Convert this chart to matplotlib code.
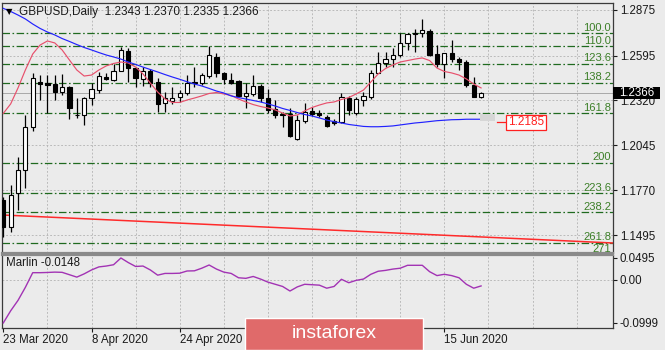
import numpy as np
import matplotlib
matplotlib.use("Agg")
import matplotlib.pyplot as plt
from matplotlib.patches import Rectangle
import matplotlib.transforms as mtransforms

plt.rcParams['font.family'] = ['Liberation Sans', 'DejaVu Sans']

# ---------------- data ----------------
symbol = "GBPUSD"
timeframe = "Daily"

date_ticks = [0, 12, 24, 36, 48, 60]
# labels at 36 and 48 are hidden behind the watermark in the reference
date_labels = ["23 Mar 2020", "8 Apr 2020", "24 Apr 2020", "", "", "15 Jun 2020"]

opens = [1.1712, 1.1546, 1.1751, 1.1894, 1.2159, 1.2435, 1.2425, 1.2421, 1.2374, 1.2401,
         1.2228, 1.2231, 1.2337, 1.2384, 1.2462, 1.2446, 1.2503, 1.2625, 1.2517, 1.2450,
         1.2503, 1.2435, 1.2303, 1.2319, 1.2343, 1.2364, 1.2430, 1.2429, 1.2470, 1.2589,
         1.2490, 1.2446, 1.2440, 1.2348, 1.2360, 1.2409, 1.2333, 1.2266, 1.2237, 1.2237,
         1.2082, 1.2196, 1.2257, 1.2245, 1.2221, 1.2194, 1.2190, 1.2333, 1.2241, 1.2323,
         1.2343, 1.2490, 1.2552, 1.2573, 1.2599, 1.2671, 1.2730, 1.2732, 1.2748, 1.2605,
         1.2544, 1.2609, 1.2573, 1.2558, 1.2415, 1.2343]
highs = [1.1730, 1.1802, 1.1975, 1.2231, 1.2490, 1.2476, 1.2476, 1.2476, 1.2482, 1.2409,
         1.2335, 1.2343, 1.2425, 1.2497, 1.2490, 1.2544, 1.2650, 1.2640, 1.2527, 1.2527,
         1.2511, 1.2456, 1.2374, 1.2405, 1.2384, 1.2476, 1.2527, 1.2490, 1.2654, 1.2609,
         1.2497, 1.2487, 1.2446, 1.2425, 1.2476, 1.2421, 1.2389, 1.2323, 1.2251, 1.2272,
         1.2231, 1.2303, 1.2282, 1.2262, 1.2231, 1.2205, 1.2368, 1.2348, 1.2343, 1.2374,
         1.2507, 1.2619, 1.2619, 1.2640, 1.2736, 1.2736, 1.2757, 1.2818, 1.2757, 1.2660,
         1.2609, 1.2691, 1.2589, 1.2568, 1.2462, 1.2370]
lows = [1.1480, 1.1515, 1.1648, 1.1782, 1.2135, 1.2323, 1.2241, 1.2323, 1.2354, 1.2208,
        1.2213, 1.2170, 1.2292, 1.2364, 1.2446, 1.2440, 1.2501, 1.2435, 1.2405, 1.2409,
        1.2405, 1.2251, 1.2251, 1.2299, 1.2313, 1.2354, 1.2405, 1.2415, 1.2456, 1.2466,
        1.2421, 1.2421, 1.2341, 1.2272, 1.2348, 1.2313, 1.2241, 1.2211, 1.2159, 1.2098,
        1.2078, 1.2184, 1.2225, 1.2217, 1.2159, 1.2170, 1.2180, 1.2231, 1.2231, 1.2286,
        1.2327, 1.2487, 1.2527, 1.2527, 1.2589, 1.2630, 1.2619, 1.2711, 1.2593, 1.2527,
        1.2456, 1.2558, 1.2507, 1.2405, 1.2340, 1.2335]
closes = [1.1544, 1.1740, 1.1894, 1.2159, 1.2456, 1.2421, 1.2415, 1.2374, 1.2401, 1.2272,
          1.2231, 1.2333, 1.2389, 1.2470, 1.2450, 1.2503, 1.2630, 1.2522, 1.2456, 1.2503,
          1.2429, 1.2299, 1.2333, 1.2333, 1.2368, 1.2429, 1.2435, 1.2476, 1.2599, 1.2490,
          1.2450, 1.2429, 1.2346, 1.2364, 1.2409, 1.2333, 1.2262, 1.2231, 1.2234, 1.2102,
          1.2200, 1.2251, 1.2237, 1.2231, 1.2164, 1.2184, 1.2340, 1.2262, 1.2327, 1.2348,
          1.2487, 1.2552, 1.2573, 1.2599, 1.2671, 1.2728, 1.2732, 1.2752, 1.2599, 1.2544,
          1.2609, 1.2573, 1.2558, 1.2415, 1.2343, 1.2366]

ma_fast = [1.2241, 1.2299, 1.2397, 1.2507, 1.2605, 1.2660, 1.2685, 1.2673, 1.2630, 1.2568,
           1.2507, 1.2470, 1.2476, 1.2507, 1.2532, 1.2547, 1.2556, 1.2550, 1.2525, 1.2483,
           1.2427, 1.2372, 1.2329, 1.2308, 1.2308, 1.2323, 1.2335, 1.2348, 1.2363, 1.2369,
           1.2360, 1.2351, 1.2329, 1.2311, 1.2295, 1.2283, 1.2274, 1.2262, 1.2243, 1.2225,
           1.2231, 1.2256, 1.2277, 1.2292, 1.2305, 1.2311, 1.2326, 1.2338, 1.2360, 1.2384,
           1.2433, 1.2483, 1.2516, 1.2538, 1.2556, 1.2565, 1.2574, 1.2581, 1.2565, 1.2519,
           1.2498, 1.2489, 1.2476, 1.2452, 1.2421, 1.2397]
ma_slow = [1.2885, 1.2866, 1.2844, 1.2820, 1.2789, 1.2762, 1.2740, 1.2722, 1.2700, 1.2682,
           1.2663, 1.2645, 1.2630, 1.2614, 1.2599, 1.2587, 1.2574, 1.2556, 1.2541, 1.2525,
           1.2510, 1.2495, 1.2479, 1.2464, 1.2450, 1.2435, 1.2421, 1.2409, 1.2394, 1.2378,
           1.2366, 1.2348, 1.2338, 1.2329, 1.2320, 1.2311, 1.2299, 1.2286, 1.2271, 1.2259,
           1.2246, 1.2234, 1.2225, 1.2213, 1.2200, 1.2190, 1.2182, 1.2173, 1.2167, 1.2161,
           1.2159, 1.2159, 1.2161, 1.2164, 1.2170, 1.2176, 1.2182, 1.2186, 1.2191, 1.2196,
           1.2199, 1.2202, 1.2203, 1.2205, 1.2205, 1.2205]

marlin = [-0.0999, -0.0720, -0.0480, -0.0180, 0.0157, 0.0157, 0.0162, 0.0170, 0.0165, 0.0110,
          0.0055, 0.0130, 0.0220, 0.0290, 0.0310, 0.0340, 0.0495, 0.0390, 0.0300, 0.0310,
          0.0220, 0.0100, 0.0140, 0.0140, 0.0145, 0.0196, 0.0200, 0.0260, 0.0334, 0.0240,
          0.0170, 0.0140, 0.0040, 0.0027, 0.0070, 0.0010, -0.0060, -0.0110, -0.0160, -0.0265,
          -0.0170, -0.0110, -0.0120, -0.0130, -0.0200, -0.0160, 0.0005, -0.0074, -0.0020, 0.0010,
          0.0120, 0.0190, 0.0210, 0.0240, 0.0260, 0.0327, 0.0327, 0.0327, 0.0180, 0.0090,
          0.0120, 0.0090, 0.0040, -0.0110, -0.0200, -0.0148]
marlin_last = "-0.0148"

trend_x = [-0.22, 82.95]
trend_y = [1.1618, 1.1446]

fib_labels = ["100.0", "110.0", "123.6", "138.2", "161.8", "200", "223.6", "238.2", "261.8", "271"]
fib_prices = [1.2732, 1.2653, 1.2545, 1.2429, 1.2241, 1.1938, 1.1751, 1.1635, 1.1448, 1.1378]

price_ticks = [1.2875, 1.2595, 1.2320, 1.2045, 1.1770, 1.1495]
price_tick_labels = ["1.2875", "1.2595", "1.2320", "1.2045", "1.1770", "1.1495"]
marlin_ticks = [0.0495, 0.0, -0.0999]
marlin_tick_labels = ["0.0495", "0.00", "-0.0999"]

label_price = 1.2185
last_price = closes[-1]

# ---------------- layout ----------------
W, H = 665, 350
bg = '#ebebeb'
fig = plt.figure(figsize=(W / 100, H / 100), dpi=100, facecolor=bg)

def fx(px):
    return px / W

def fy(py):
    return 1 - py / H

ax = fig.add_axes([fx(1.7), fy(252.5), fx(613 - 1.7), (252.5 - 3) / H])
ax2 = fig.add_axes([fx(1.7), fy(328), fx(613 - 1.7), (328 - 255) / H])

xlim = (-0.22, 82.95)
for a in (ax, ax2):
    a.set_facecolor(bg)
    a.set_xlim(*xlim)
    for s in a.spines.values():
        s.set_color('#3a3a3a')
        s.set_linewidth(0.9)
ax.spines['bottom'].set_color('#8a8a8a')
ax.spines['bottom'].set_linewidth(1.6)
ax2.spines['top'].set_color('#8a8a8a')
ax2.spines['top'].set_linewidth(1.6)

ax.set_ylim(1.13877, 1.29179)
ax2.set_ylim(-0.1116, 0.0564)

grid_kw = dict(color='#b2b2b2', linewidth=0.6, linestyle=(0, (2.2, 2.2)), zorder=1)
for gx in range(6, 83, 6):
    ax.axvline(gx, **grid_kw)
    ax2.axvline(gx, **grid_kw)
for py in price_ticks:
    ax.axhline(py, **grid_kw)
ax2.axhline(0.0, **grid_kw)

# current price line
ax.axhline(last_price, color='#a8a8a8', linewidth=0.7, zorder=1.2)

# fibonacci levels
fib_color = '#1f6a1f'
for lab, pr in zip(fib_labels, fib_prices):
    ax.axhline(pr, color=fib_color, linewidth=0.9, linestyle=(0, (6, 2, 1.3, 2)), zorder=1.5)
    tr = mtransforms.offset_copy(ax.get_yaxis_transform(), fig=fig, x=0, y=1.8, units='points')
    ax.text(0.9967, pr, lab, transform=tr, ha='right', va='baseline', fontsize=8.0,
            color='#3c7f28', zorder=6, clip_on=False)

# long red trend line
ax.plot(trend_x, trend_y, color='#ff2a2a', linewidth=1.1, zorder=2)

# candles
x = np.arange(len(opens))
o = np.array(opens); c = np.array(closes); h = np.array(highs); l = np.array(lows)
up = c >= o
ax.vlines(x, l, h, color='black', linewidth=0.9, zorder=3)
ax.bar(x, np.abs(c - o), width=0.58, bottom=np.minimum(o, c),
       color=np.where(up, 'white', 'black'), edgecolor='black', linewidth=0.8, zorder=4)

# moving averages
ax.plot(x, ma_fast, color='#e8506c', linewidth=0.85, zorder=5)
ax.plot(x, ma_slow, color='#2222ff', linewidth=0.85, zorder=5)

# price label annotation
ax.add_patch(Rectangle((64.9, 1.2196), 2.0, 0.0041, facecolor='#d6d6d6', edgecolor='none', zorder=5))
ax.plot([67.1, 68.5], [label_price, label_price], color='#ff2020', linewidth=0.9, zorder=6)
ax.text(68.65, label_price, f"{label_price:.4f}", ha='left', va='center', fontsize=8.5,
        color='#ff2020', zorder=7,
        bbox=dict(boxstyle='square,pad=0.15', facecolor='white', edgecolor='#ff2020', linewidth=0.9))

# axes ticks
ax.set_yticks(price_ticks, price_tick_labels)
ax.yaxis.tick_right()
ax.tick_params(axis='y', direction='out', length=3, width=0.8, pad=2, labelsize=8.3,
               colors='#1a1a1a', right=True, left=False, labelright=True, labelleft=False)
ax.tick_params(axis='x', bottom=False, labelbottom=False)

ax2.set_yticks(marlin_ticks, marlin_tick_labels)
ax2.yaxis.tick_right()
ax2.tick_params(axis='y', direction='out', length=3, width=0.8, pad=2, labelsize=8.3,
                colors='#1a1a1a', right=True, left=False, labelright=True, labelleft=False)
ax2.set_xticks(date_ticks, date_labels)
ax2.tick_params(axis='x', direction='out', length=3, width=0.8, pad=1.5, labelsize=8.3, colors='#1a1a1a')
for t in ax2.get_xticklabels():
    t.set_ha('left')

# current price box on the axis
ax.add_patch(Rectangle((1.0, last_price - 0.00347), 0.0769, 0.00694, transform=ax.get_yaxis_transform(),
                       facecolor='black', edgecolor='none', clip_on=False, zorder=20))
ax.text(1.0095, last_price, f"{last_price:.4f}", transform=ax.get_yaxis_transform(), ha='left',
        va='center', fontsize=8.3, color='white', zorder=21, clip_on=False)

# marlin indicator
ax2.plot(x, marlin, color='#a233b4', linewidth=1.0, zorder=4)
ax2.text(0.007, 0.89, f"Marlin {marlin_last}", transform=ax2.transAxes, ha='left', va='center',
         fontsize=8.3, color='#1a1a1a', zorder=6)

# header
fig.text(fx(9), fy(12.0), '\u25bc', fontsize=6, ha='center', va='center', family='DejaVu Sans', color='black')
header = f"{symbol},{timeframe}  " + " ".join(f"{v:.4f}" for v in (opens[-1], highs[-1], lows[-1], closes[-1]))
fig.text(fx(19.3), fy(12.3), header, fontsize=8.5, ha='left', va='center', color='#1a1a1a')

# watermark
fig.add_artist(Rectangle((fx(245), 0.0), fx(423 - 245), (350 - 318) / H, transform=fig.transFigure,
                         facecolor='#e06a6a', edgecolor='white', linewidth=1.0, zorder=30))
fig.text(fx(334), fy(334), 'instaforex', fontsize=14, color='white', ha='center', va='center', zorder=31)

fig.savefig('out.png', dpi=100, facecolor=bg)
